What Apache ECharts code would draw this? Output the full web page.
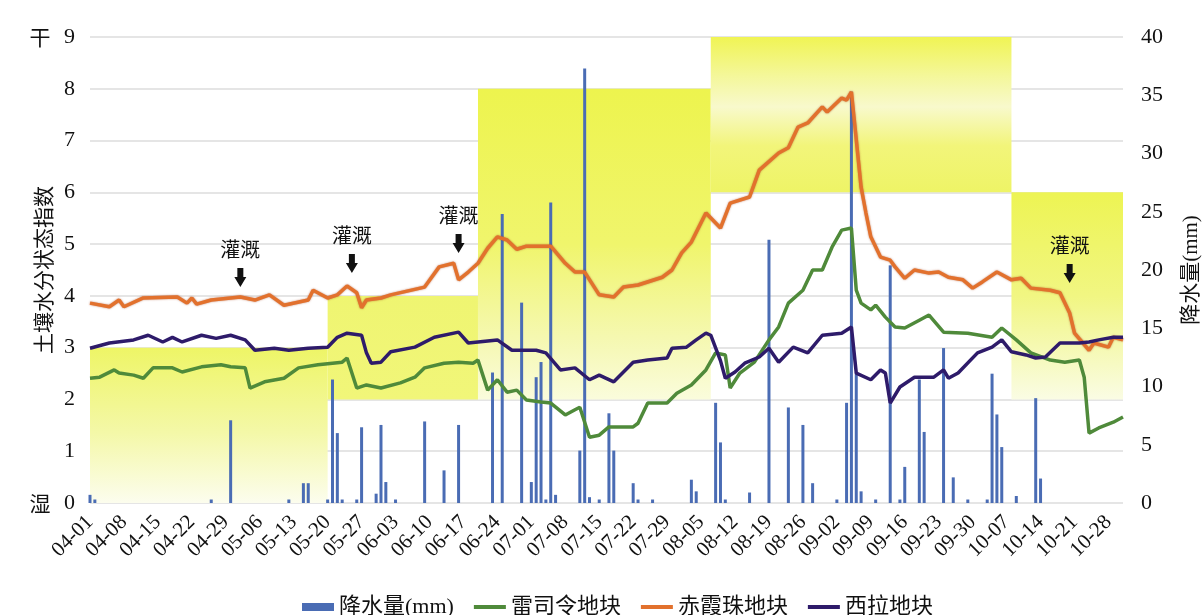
<!DOCTYPE html>
<html><head><meta charset="utf-8">
<script src="https://cdn.jsdelivr.net/npm/echarts@6/dist/echarts.min.js"></script>
<style>html,body{margin:0;padding:0;background:#fff}#c{width:1204px;height:615px}</style>
</head><body><div id="c"></div><script>
// ---- categories: daily dates 04-01 .. 10-31 ----
const months = [[4,30],[5,31],[6,30],[7,31],[8,31],[9,30],[10,31]];
const dates = [];
months.forEach(([m, n]) => { for (let d = 1; d <= n; d++) dates.push(String(m).padStart(2,'0') + '-' + String(d).padStart(2,'0')); });

// ---- rainfall (mm), right axis ----
const rainfall = [['04-01',0.7],['04-02',0.3],['04-26',0.3],['04-30',7.1],['05-12',0.3],['05-15',1.7],['05-16',1.7],['05-20',0.3],['05-21',10.6],['05-22',6.0],['05-23',0.3],['05-26',0.3],['05-27',6.5],['05-30',0.8],['05-31',6.7],['06-01',1.8],['06-03',0.3],['06-09',7.0],['06-13',2.8],['06-16',6.7],['06-23',11.2],['06-25',24.8],['06-29',17.2],['07-01',1.8],['07-02',10.8],['07-03',12.1],['07-04',0.3],['07-05',25.8],['07-06',0.7],['07-11',4.5],['07-12',37.3],['07-13',0.5],['07-15',0.3],['07-17',7.7],['07-18',4.5],['07-22',1.7],['07-23',0.3],['07-26',0.3],['08-03',2.0],['08-04',1.0],['08-08',8.6],['08-09',5.2],['08-10',0.3],['08-15',0.9],['08-19',22.6],['08-23',8.2],['08-26',6.7],['08-28',1.7],['09-02',0.3],['09-04',8.6],['09-05',35.3],['09-06',11.2],['09-07',1.0],['09-10',0.3],['09-13',20.4],['09-15',0.3],['09-16',3.1],['09-19',10.6],['09-20',6.1],['09-24',13.3],['09-26',2.2],['09-29',0.3],['10-03',0.3],['10-04',11.1],['10-05',7.6],['10-06',4.8],['10-09',0.6],['10-13',9.0],['10-14',2.1]];

// ---- soil moisture index, left axis ----
const riesling = [['04-01',2.41],['04-03',2.43],['04-06',2.57],['04-07',2.51],['04-10',2.47],['04-12',2.41],['04-14',2.61],['04-18',2.61],['04-20',2.53],['04-24',2.63],['04-28',2.67],['04-30',2.63],['05-03',2.61],['05-04',2.22],['05-07',2.34],['05-11',2.41],['05-14',2.61],['05-18',2.67],['05-21',2.70],['05-23',2.72],['05-24',2.80],['05-26',2.22],['05-28',2.28],['05-31',2.22],['06-04',2.32],['06-07',2.43],['06-09',2.61],['06-13',2.70],['06-16',2.72],['06-19',2.70],['06-20',2.76],['06-22',2.18],['06-24',2.38],['06-26',2.14],['06-28',2.18],['06-30',1.99],['07-03',1.95],['07-05',1.93],['07-08',1.70],['07-10',1.80],['07-11',1.85],['07-13',1.27],['07-15',1.31],['07-17',1.47],['07-22',1.47],['07-23',1.54],['07-25',1.93],['07-29',1.93],['07-31',2.12],['08-03',2.28],['08-06',2.57],['08-08',2.90],['08-10',2.86],['08-11',2.22],['08-13',2.51],['08-16',2.72],['08-19',3.15],['08-21',3.40],['08-23',3.86],['08-26',4.11],['08-28',4.50],['08-30',4.50],['09-01',4.94],['09-03',5.27],['09-05',5.31],['09-06',4.11],['09-07',3.86],['09-09',3.73],['09-10',3.82],['09-12',3.59],['09-14',3.40],['09-16',3.38],['09-19',3.53],['09-21',3.63],['09-24',3.30],['09-29',3.28],['10-04',3.20],['10-06',3.38],['10-09',3.15],['10-12',2.90],['10-16',2.76],['10-19',2.72],['10-22',2.76],['10-23',2.43],['10-24',1.35],['10-26',1.45],['10-29',1.56],['10-31',1.66]];

const cabernet = [['04-01',3.86],['04-05',3.79],['04-07',3.92],['04-08',3.79],['04-12',3.96],['04-19',3.98],['04-21',3.86],['04-22',3.96],['04-23',3.84],['04-26',3.92],['05-02',3.98],['05-05',3.92],['05-08',4.02],['05-11',3.82],['05-16',3.92],['05-17',4.11],['05-20',3.96],['05-22',4.02],['05-24',4.19],['05-26',4.06],['05-27',3.77],['05-28',3.92],['05-31',3.96],['06-02',4.02],['06-09',4.17],['06-12',4.56],['06-15',4.63],['06-16',4.31],['06-18',4.46],['06-20',4.63],['06-22',4.92],['06-24',5.14],['06-26',5.08],['06-28',4.90],['06-30',4.96],['07-05',4.96],['07-08',4.63],['07-10',4.46],['07-12',4.46],['07-15',4.02],['07-18',3.98],['07-20',4.17],['07-23',4.21],['07-28',4.36],['07-30',4.50],['08-01',4.83],['08-03',5.04],['08-06',5.60],['08-09',5.31],['08-11',5.79],['08-15',5.91],['08-17',6.43],['08-21',6.76],['08-23',6.86],['08-25',7.26],['08-27',7.34],['08-30',7.65],['08-31',7.55],['09-03',7.82],['09-04',7.78],['09-05',7.94],['09-07',6.10],['09-08',5.60],['09-09',5.14],['09-11',4.75],['09-13',4.69],['09-14',4.56],['09-16',4.34],['09-18',4.50],['09-21',4.44],['09-23',4.46],['09-25',4.36],['09-28',4.31],['09-30',4.15],['10-02',4.27],['10-05',4.46],['10-08',4.31],['10-10',4.34],['10-12',4.15],['10-16',4.11],['10-18',4.06],['10-20',3.67],['10-21',3.28],['10-24',2.95],['10-25',3.09],['10-28',3.01],['10-29',3.20],['10-31',3.15]];

const syrah = [['04-01',2.99],['04-05',3.09],['04-10',3.15],['04-13',3.24],['04-16',3.11],['04-18',3.20],['04-20',3.11],['04-24',3.24],['04-27',3.18],['04-30',3.24],['05-03',3.15],['05-05',2.95],['05-09',2.99],['05-12',2.95],['05-16',2.99],['05-20',3.01],['05-22',3.20],['05-24',3.28],['05-27',3.24],['05-28',2.90],['05-29',2.70],['05-31',2.72],['06-02',2.92],['06-07',3.01],['06-11',3.20],['06-16',3.30],['06-18',3.09],['06-24',3.15],['06-27',2.95],['07-02',2.95],['07-04',2.90],['07-07',2.57],['07-10',2.61],['07-13',2.38],['07-15',2.47],['07-18',2.34],['07-22',2.72],['07-25',2.76],['07-29',2.80],['07-30',2.99],['08-02',3.01],['08-04',3.15],['08-06',3.28],['08-07',3.24],['08-09',2.75],['08-10',2.41],['08-12',2.53],['08-14',2.70],['08-17',2.82],['08-19',2.99],['08-21',2.72],['08-24',3.01],['08-27',2.90],['08-30',3.24],['09-03',3.28],['09-05',3.40],['09-06',2.51],['09-09',2.38],['09-11',2.57],['09-12',2.51],['09-13',1.93],['09-15',2.24],['09-18',2.43],['09-22',2.43],['09-24',2.57],['09-25',2.41],['09-27',2.51],['10-01',2.90],['10-04',3.01],['10-06',3.15],['10-08',2.92],['10-11',2.86],['10-13',2.80],['10-15',2.82],['10-18',3.09],['10-22',3.09],['10-24',3.11],['10-26',3.15],['10-29',3.20],['10-31',3.20]];

// ---- suitable-moisture bands (start date, end date, upper, lower) ----
const bandStarts = ['04-01','05-20','06-20','08-07','10-08'];
const bandEnds   = ['05-20','06-20','08-07','10-08','10-31'];
const bandTops   = [3, 4, 8, 9, 6];
const bandBottoms= [0, 2, 2, 6, 2];

// ---- irrigation annotations ----
const irrigationDates  = ['05-02','05-25','06-16','10-20'];
const irrigationLevels = [4.17, 4.44, 4.83, 4.25];

// ---- end-of-scale words on the left axis ----
const scaleWords  = ['干', '湿'];
const scaleValues = [9, 0];

const F = '"Liberation Serif","Noto Sans CJK SC",serif';
const CJK = '"Noto Sans CJK SC",sans-serif';
const grad = (stops) => ({type:'linear', x:0, y:0, x2:0, y2:1, colorStops: stops.map(c=>({offset:c[0], color:c[1]}))});
const bandFills = [
  grad([[0,'#eef566'],[0.55,'#f4f8a8'],[1,'#fcfdee']]),
  grad([[0,'#eff571'],[1,'#f1f679']]),
  grad([[0,'#edf44e'],[0.5,'#f0f56c'],[0.8,'#f5f8b0'],[1,'#fafcdc']]),
  grad([[0,'#f0f454'],[0.25,'#f4f79a'],[0.45,'#f8f9cc'],[0.7,'#f2f57a'],[1,'#eef466']]),
  grad([[0,'#edf453'],[0.5,'#f1f682'],[1,'#fafce4']])
];
const lineIcon = 'path://M0,0 L34,0 L34,4 L0,4 Z';

const chart = echarts.init(document.getElementById('c'));
chart.setOption({
  animation: false,
  backgroundColor: '#fff',
  grid: {left: 90, right: 81, top: 37, bottom: 112, outerBoundsMode: 'none', containLabel: false},
  legend: {
    left: 297, top: 591, itemWidth: 32, itemHeight: 8, itemGap: 20,
    textStyle: {fontSize: 22, fontFamily: F, color: '#111'},
    data: [{name:'降水量(mm)', icon:'rect'}, {name:'雷司令地块', icon: lineIcon},
           {name:'赤霞珠地块', icon: lineIcon}, {name:'西拉地块', icon: lineIcon}]
  },
  xAxis: {
    type: 'category', data: dates, boundaryGap: false,
    axisLine: {show: false}, axisTick: {show: false}, splitLine: {show: false},
    axisLabel: {interval: 6, rotate: 45, fontSize: 21, fontFamily: F, color: '#111', margin: 16}
  },
  yAxis: [
    {
      type: 'value', min: 0, max: 9, interval: 1,
      name: '土壤水分状态指数', nameLocation: 'middle', nameGap: 34, nameRotate: 90, nameMoveOverlap: false,
      nameTextStyle: {fontSize: 21, fontFamily: F, color: '#111'},
      axisLine: {show: false}, axisTick: {show: false},
      axisLabel: {fontSize: 22, fontFamily: F, color: '#111', margin: 15},
      splitLine: {lineStyle: {color: '#dcdcdc', width: 1.5}}
    },
    {
      type: 'value', min: 0, max: 40, interval: 5, position: 'right',
      name: '降水量(mm)', nameLocation: 'middle', nameGap: 58, nameRotate: 90, nameMoveOverlap: false,
      nameTextStyle: {fontSize: 21, fontFamily: F, color: '#111'},
      axisLine: {show: false}, axisTick: {show: false},
      axisLabel: {fontSize: 22, fontFamily: F, color: '#111', margin: 18},
      splitLine: {show: false}
    }
  ],
  series: [
    {
      name: '_bands', type: 'line', data: [], z: -1, silent: true,
      markArea: {
        silent: true,
        data: bandStarts.map((s, i) => [
          {xAxis: s, yAxis: bandTops[i], itemStyle: {color: bandFills[i]}},
          {xAxis: bandEnds[i], yAxis: bandBottoms[i]}
        ])
      }
    },
    {
      name: '降水量(mm)', type: 'bar', yAxisIndex: 1, data: rainfall,
      barWidth: 3, itemStyle: {color: '#4a6cb4'}, z: 2
    },
    {name: '雷司令地块', type: 'line', data: riesling, symbol: 'none', z: 3,
     itemStyle: {color: '#4f8a3a'}, lineStyle: {color: '#4f8a3a', width: 3.5}},
    {name: '赤霞珠地块', type: 'line', data: cabernet, symbol: 'none', z: 3,
     itemStyle: {color: '#e2712d'}, lineStyle: {color: '#e2712d', width: 3.5, shadowColor: 'rgba(160,60,20,0.6)', shadowBlur: 2}},
    {name: '西拉地块', type: 'line', data: syrah, symbol: 'none', z: 3,
     itemStyle: {color: '#2e1b6a'}, lineStyle: {color: '#2e1b6a', width: 3.5}},
    {
      name: '_notes', type: 'line', data: [], z: 5, silent: true,
      markPoint: {
        silent: true,
        symbol: 'path://M3,0 L9,0 L9,9 L12,9 L6,19 L0,9 L3,9 Z',
        symbolSize: [12, 19], symbolOffset: [0, '-50%'],
        itemStyle: {color: '#111'},
        label: {show: true, position: 'top', distance: 6, formatter: '灌溉',
                fontSize: 20, fontFamily: F, color: '#111'},
        data: irrigationDates.map((d, i) => ({coord: [d, irrigationLevels[i]]}))
      }
    }
  ]
});
// place the 干 / 湿 words beside their tick values, positioned through the axis scale
chart.setOption({
  graphic: scaleWords.map((w, i) => ({
    type: 'text', x: 40, y: chart.convertToPixel({yAxisIndex: 0}, scaleValues[i]),
    silent: true,
    style: {text: w, font: '21px ' + CJK, fill: '#111', align: 'center', verticalAlign: 'middle'}
  }))
});
</script></body></html>
